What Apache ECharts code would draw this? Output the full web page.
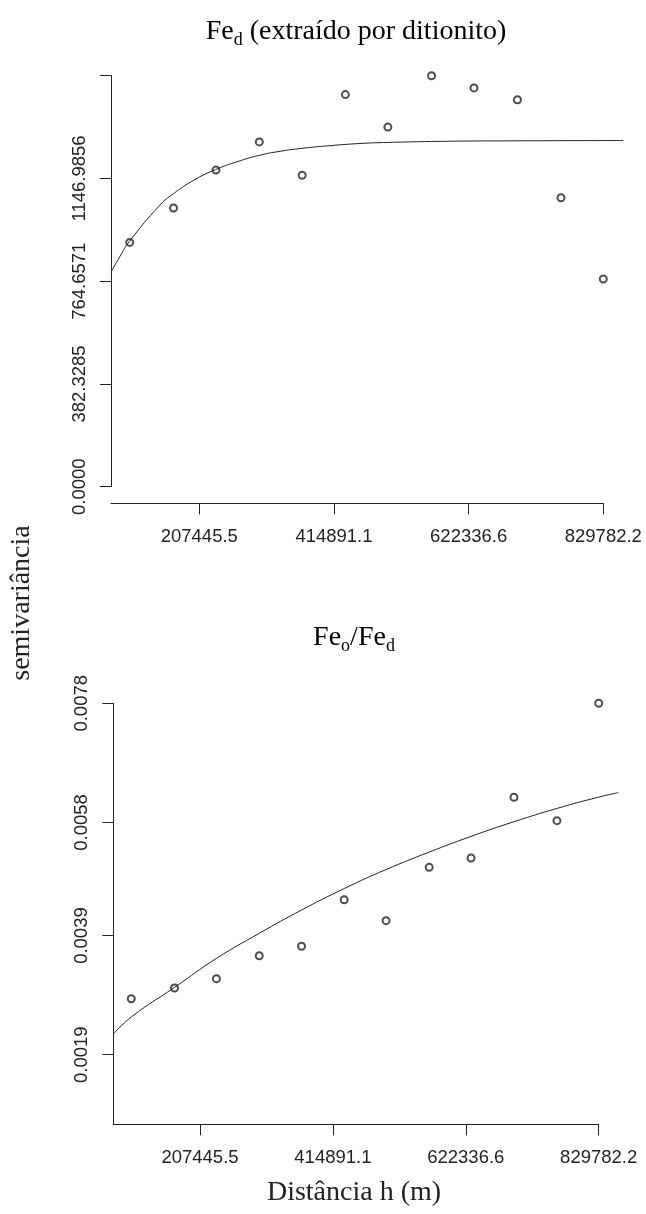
<!DOCTYPE html>
<html>
<head>
<meta charset="utf-8">
<script src="https://cdn.jsdelivr.net/npm/echarts@6/dist/echarts.min.js"></script>
<style>
  html, body { margin: 0; padding: 0; background: #ffffff; }
  #chart { width: 646px; height: 1214px; }
</style>
</head>
<body>
<div id="chart"></div>
<script>
// Lag distances h (m) of the experimental semivariograms
const lags = [100200, 167700, 233100, 299900, 365900, 432500, 497900, 565200, 630500, 697500, 764600, 829782.2];

// Fe_d (dithionite-extracted): experimental semivariance per lag
const fedGamma = [909, 1037, 1178, 1283, 1159, 1459, 1338, 1529.3141, 1484, 1440, 1075, 773];
// Fe_d fitted model curve: [distance, semivariance]
const fedModel = [
  [71430, 798], [85290, 857], [99617, 912], [146906, 1048], [167395, 1090],
  [200816, 1143], [232708, 1180], [265514, 1209], [299870, 1233], [331760, 1248],
  [365645, 1259], [408775, 1269], [454986, 1277], [498580, 1281], [578219, 1285],
  [700000, 1287], [860574, 1288]
];

// Fe_o/Fe_d ratio: experimental semivariance per lag
const ratioGamma = [0.00284, 0.00302, 0.003176, 0.003562, 0.00372, 0.004502, 0.00415, 0.005046, 0.005203, 0.006222, 0.005829, 0.0078];
// Fe_o/Fe_d fitted model curve: [distance, semivariance]
const ratioModel = [
  [72114, 0.002247], [100834, 0.002538], [167953, 0.003032], [233510, 0.003519],
  [300005, 0.003938], [366187, 0.00433], [432681, 0.00469], [498240, 0.00501],
  [564889, 0.0053], [630449, 0.005565], [697100, 0.00581], [764690, 0.006035],
  [829782, 0.006225], [860376, 0.0063]
];

// Axis ticks and labels
const xTicks = [207445.5, 414891.1, 622336.6, 829782.2];
const fedYTicks = [0, 382.3285, 764.6571, 1146.9856, 1529.3141];
const fedYLabels = [0, 382.3285, 764.6571, 1146.9856];
const ratioYTicks = [0.0019, 0.0039, 0.0058, 0.0078];

const INK = '#222222';
const SANS = '"Liberation Sans", Arial, sans-serif';
const SERIF = '"Liberation Serif", "Times New Roman", serif';
const tickText = { fontFamily: SANS, fontSize: 18.5, color: INK };

// Plot frames: the visible axes stop at the last tick, the drawing area runs a bit further right
const X_LAST = 829782.2;
const X_FAR = 870000;
const frames = [
  { left: 111, top: 75.7, height: 411, xMin: 71430, pxPerUnit: 134.67 / 207445.5, yMin: 0, yMax: 1529.3141, xOffset: 16.6 },
  { left: 113.3, top: 703.3, height: 421, xMin: 72114, pxPerUnit: 132.9 / 207445.5, yMin: 0.000731, yMax: 0.0078, xOffset: 0 }
];

function visibleXAxis(gridIndex, f) {
  return {
    type: 'value', gridIndex: gridIndex, min: f.xMin, max: X_LAST, offset: f.xOffset,
    splitLine: { show: false },
    axisLine: { show: true, onZero: false, lineStyle: { color: INK, width: 1 } },
    axisTick: { show: true, length: 11, customValues: xTicks, lineStyle: { color: INK, width: 1 } },
    axisLabel: Object.assign({ customValues: xTicks, margin: 24, formatter: v => v.toFixed(1) }, tickText)
  };
}

function visibleYAxis(gridIndex, f, ticks, labels) {
  return {
    type: 'value', gridIndex: gridIndex, min: f.yMin, max: f.yMax,
    splitLine: { show: false },
    axisLine: { show: true, onZero: false, lineStyle: { color: INK, width: 1 } },
    axisTick: { show: true, length: 11, customValues: ticks, lineStyle: { color: INK, width: 1 } },
    axisLabel: Object.assign({ customValues: labels, rotate: 90, margin: 22, formatter: v => v.toFixed(4) }, tickText)
  };
}

function hiddenAxis(gridIndex, min, max) {
  return { type: 'value', gridIndex: gridIndex, min: min, max: max, show: false, splitLine: { show: false } };
}

const pointStyle = {
  type: 'scatter', symbol: 'emptyCircle', symbolSize: 7, clip: false,
  itemStyle: { color: INK, borderColor: INK, borderWidth: 1 }
};
const curveStyle = {
  type: 'line', showSymbol: false, smooth: true, clip: false,
  lineStyle: { color: INK, width: 1 }
};

const titleRich = {
  m: { fontFamily: SERIF, fontSize: 28, lineHeight: 30, verticalAlign: 'top', color: INK },
  s: { fontFamily: SERIF, fontSize: 18, lineHeight: 18, verticalAlign: 'top', padding: [13, 0, 0, 0], color: INK }
};

const grids = [];
frames.forEach(f => grids.push({ left: f.left, top: f.top, height: f.height,
  width: (X_LAST - f.xMin) * f.pxPerUnit, outerBoundsMode: 'none' }));
frames.forEach(f => grids.push({ left: f.left, top: f.top, height: f.height,
  width: (X_FAR - f.xMin) * f.pxPerUnit, outerBoundsMode: 'none' }));

const chart = echarts.init(document.getElementById('chart'), null, { renderer: 'canvas' });
chart.setOption({
  animation: false,
  backgroundColor: '#ffffff',
  grid: grids,
  xAxis: [
    visibleXAxis(0, frames[0]),
    visibleXAxis(1, frames[1]),
    hiddenAxis(2, frames[0].xMin, X_FAR),
    hiddenAxis(3, frames[1].xMin, X_FAR)
  ],
  yAxis: [
    visibleYAxis(0, frames[0], fedYTicks, fedYLabels),
    visibleYAxis(1, frames[1], ratioYTicks, ratioYTicks),
    hiddenAxis(2, frames[0].yMin, frames[0].yMax),
    hiddenAxis(3, frames[1].yMin, frames[1].yMax)
  ],
  series: [
    Object.assign({ name: 'Fe_d modelo', xAxisIndex: 2, yAxisIndex: 2, data: fedModel }, curveStyle),
    Object.assign({ name: 'Fe_d', xAxisIndex: 2, yAxisIndex: 2,
      data: lags.map((h, i) => [h, fedGamma[i]]) }, pointStyle),
    Object.assign({ name: 'Feo/Fed modelo', xAxisIndex: 3, yAxisIndex: 3, data: ratioModel }, curveStyle),
    Object.assign({ name: 'Feo/Fed', xAxisIndex: 3, yAxisIndex: 3,
      data: lags.map((h, i) => [h, ratioGamma[i]]) }, pointStyle)
  ],
  graphic: [
    { type: 'text', x: 356, y: 18,
      style: { text: '{m|Fe}{s|d}{m| (extraído por ditionito)}', rich: titleRich, align: 'center', verticalAlign: 'top' } },
    { type: 'text', x: 354, y: 624,
      style: { text: '{m|Fe}{s|o}{m|/Fe}{s|d}', rich: titleRich, align: 'center', verticalAlign: 'top' } },
    { type: 'text', x: 22, y: 603, rotation: Math.PI / 2,
      style: { text: 'semivariância', fontFamily: SERIF, fontSize: 28, fill: INK, align: 'center', verticalAlign: 'middle' } },
    { type: 'text', x: 354, y: 1193,
      style: { text: 'Distância h (m)', fontFamily: SERIF, fontSize: 28, fill: INK, align: 'center', verticalAlign: 'middle' } }
  ]
});
</script>
</body>
</html>
